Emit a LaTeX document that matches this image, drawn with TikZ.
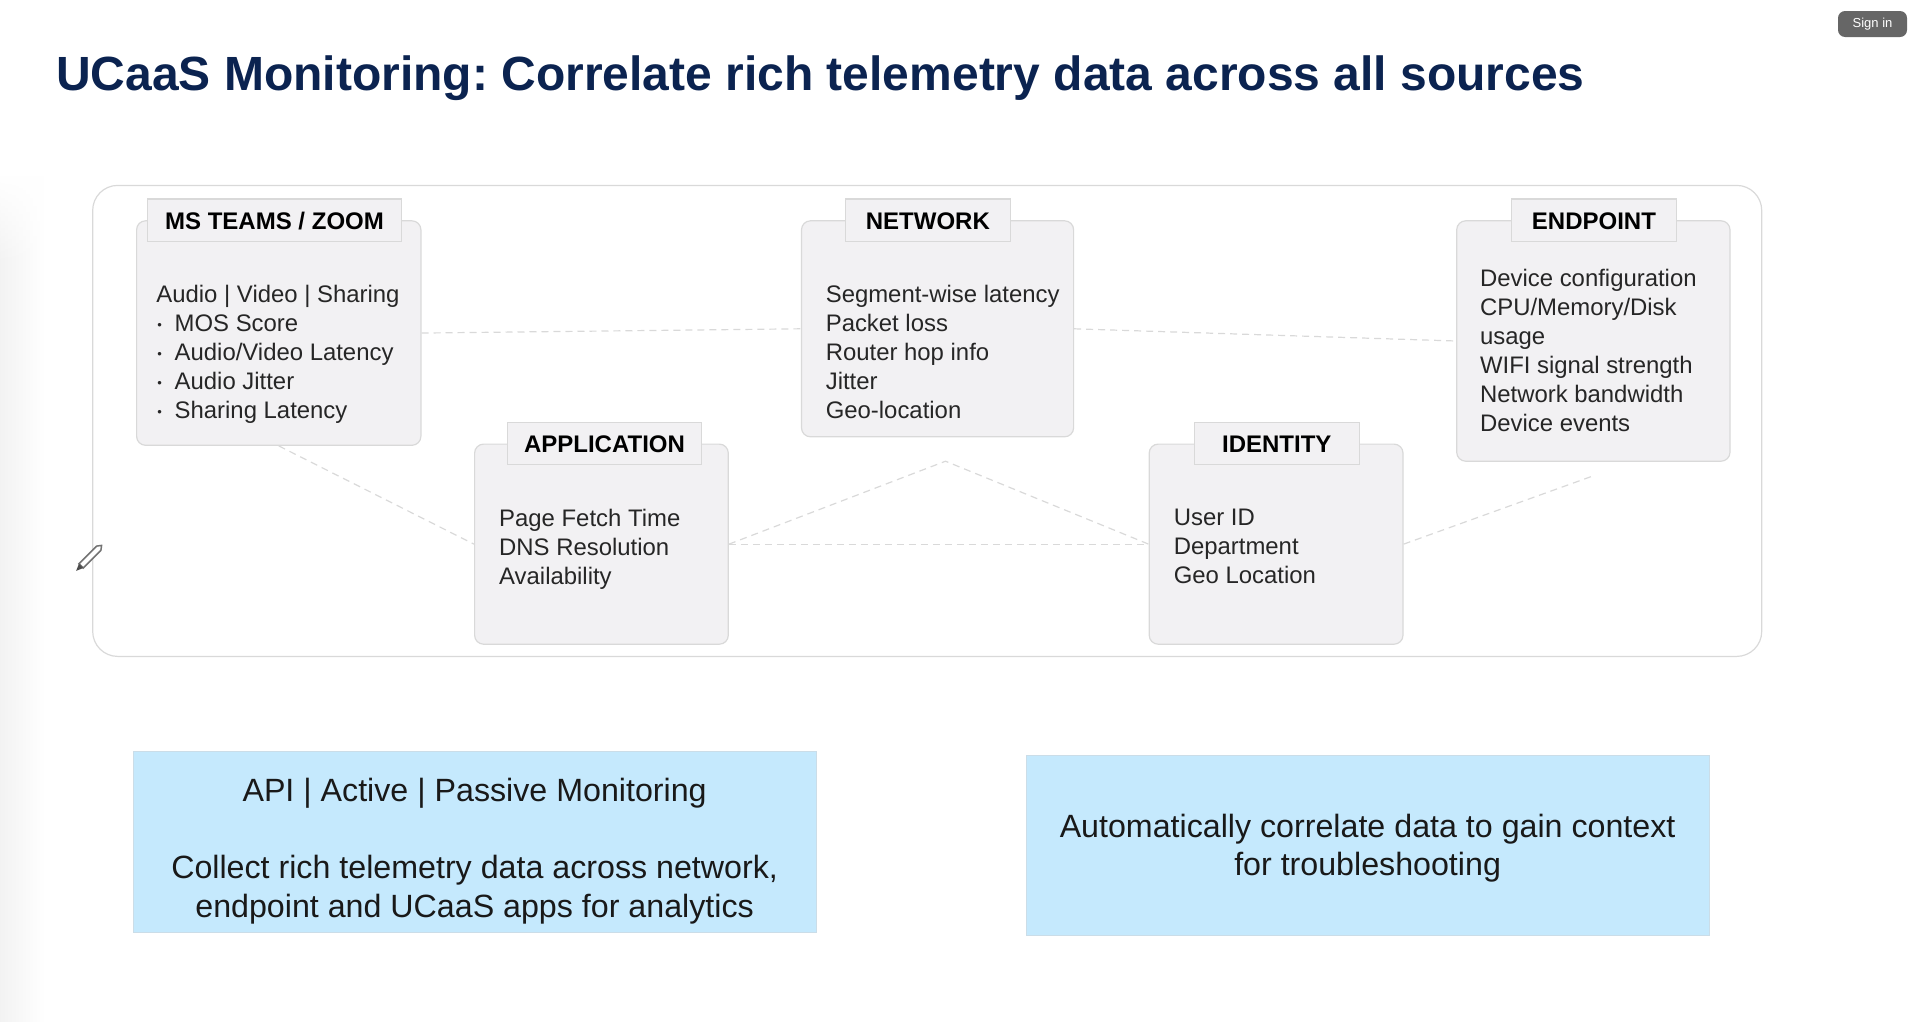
\documentclass[tikz,border=0pt]{standalone}
\usepackage{fontspec}
\setmainfont{Liberation Sans}
\usetikzlibrary{positioning, calc, fadings}
\definecolor{titlenavy}{HTML}{0B2350}
\definecolor{panelgray}{HTML}{F2F1F3}
\definecolor{edgegray}{HTML}{D9D9D9}
\definecolor{blurbblue}{HTML}{C5E9FD}
\definecolor{blurbedge}{HTML}{CBDDE8}
\tikzset{
  panel/.style={draw=edgegray, fill=panelgray, line width=1.2pt, rounded corners=9pt, inner sep=0pt},
  tag/.style={draw=edgegray, fill=panelgray, line width=1.2pt, inner sep=0pt, text height=18.9pt, text depth=0pt, font=\fontsize{24}{29}\selectfont\bfseries, text=black},
  facts/.style={inner sep=0pt, anchor=north west, align=left, font=\fontsize{23.9}{29}\selectfont, text=black!85},
  link/.style={dashed, draw=edgegray, line width=1.2pt, dash pattern=on 7pt off 5pt},
  blurb/.style={draw=blurbedge, fill=blurbblue, line width=1pt, inner sep=0pt},
  blurbtext/.style={inner sep=0pt, align=center, font=\fontsize{32.2}{38.5}\selectfont, text=black!90}
}
\newcommand{\bul}{\makebox[18.3pt][l]{\hspace{1pt}\raisebox{2pt}{\fontsize{13}{13}\selectfont\textbullet}}}
\begin{document}
\frenchspacing
\begin{tikzpicture}[x=1pt, y=-1pt]
  \useasboundingbox (0,0) rectangle (1913,1021);

  % Shadow down the left edge
  \shade[left color=black!5, right color=white] (0,175) rectangle (45,1021);
  \fill[white, path fading=south] (0,175) rectangle (45,265);

  % Title
  \node[anchor=west, inner sep=0pt, text=titlenavy, font=\fontsize{48}{56}\selectfont\bfseries] (title) at (56,78.5)
    {UCaaS Monitoring: Correlate rich telemetry data across all sources};

  % Sign in button
  \node[fill=black!60, rounded corners=7pt, minimum width=69pt, minimum height=26pt, inner sep=0pt, text=white, font=\fontsize{13}{15}\selectfont] (signin) at (1872.5,24) {Sign in};

  % Outer frame
  \node[draw=edgegray, line width=1.2pt, rounded corners=25pt, minimum width=1669pt, minimum height=471pt, inner sep=0pt] (frame) at (927.2,420.9) {};

  % Panels
  \node[panel, minimum width=284.3pt, minimum height=224.5pt] (ms) at (278.75,333.05) {};
  \node[panel, minimum width=253.7pt, minimum height=200.1pt] (app) at (601.45,544.15) {};
  \node[panel, minimum width=272.1pt, minimum height=216pt] (net) at (937.55,328.8) {};
  \node[panel, minimum width=253.8pt, minimum height=200.1pt] (idn) at (1276.1,544.15) {};
  \node[panel, minimum width=273.3pt, minimum height=240.4pt] (end) at (1593.35,341) {};

  % Free ends of the links
  \coordinate (apex) at (945.5,461.2);
  \coordinate (endfoot) at (1593.3,475.8);

  % Links
  \draw[link] (ms.east) -- (net.west);
  \draw[link] (net.east) -- (end.west);
  \draw[link] (ms.south) -- (app.west);
  \draw[link] (app.east) -- (idn.west);
  \draw[link] (app.east) -- (apex) -- (idn.west);
  \draw[link] (idn.east) -- (endfoot);

  % Tags
  \node[tag, minimum width=253.8pt, minimum height=42.7pt] (mstag) at (274.5,220.25) {MS TEAMS / ZOOM};
  \node[tag, minimum width=194pt, minimum height=42.7pt] (apptag) at (604.5,443.45) {APPLICATION};
  \node[tag, minimum width=164.7pt, minimum height=42.7pt] (nettag) at (927.85,220.25) {NETWORK};
  \node[tag, minimum width=164.7pt, minimum height=42.7pt] (idntag) at (1276.75,443.45) {IDENTITY};
  \node[tag, minimum width=164.7pt, minimum height=42.7pt] (endtag) at (1593.95,220.25) {ENDPOINT};

  % Panel texts
  \node[facts] (mstext) at (156.2,285) {Audio | Video | Sharing\\
    \bul MOS Score\\ \bul Audio/Video Latency\\ \bul Audio Jitter\\ \bul Sharing Latency};
  \node[facts] (apptext) at (499,509) {Page Fetch Time\\DNS Resolution\\Availability};
  \node[facts] (nettext) at (825.6,285) {Segment-wise latency\\Packet loss\\Router hop info\\Jitter\\Geo-location};
  \node[facts] (idntext) at (1173.6,509) {User ID\\Department\\Geo Location};
  \node[facts] (endtext) at (1479.9,269.4) {Device configuration\\CPU/Memory/Disk\\usage\\WIFI signal strength\\Network bandwidth\\Device events};

  % Blue boxes
  \node[blurb, minimum width=683.2pt, minimum height=180.6pt] (left) at (474.6,841.8) {};
  \node[blurbtext] (lefttext) at (474.6,851)
    {API | Active | Passive Monitoring\\[38.5pt]Collect rich telemetry data across network,\\endpoint and UCaaS apps for analytics};
  \node[blurb, minimum width=683.2pt, minimum height=180.5pt] (right) at (1367.6,845.45) {};
  \node[blurbtext] (righttext) at (1367.6,848)
    {Automatically correlate data to gain context\\for troubleshooting};

  % Pencil
  \begin{scope}[shift={(91,556)}, rotate=45]
    \draw[black!55, fill=white, line width=1.5pt] (-14,-3) -- (11,-3) -- (15,0) -- (11,3) -- (-14,3) -- cycle;
    \fill[black!70] (-21,0) -- (-14,-3) -- (-14,3) -- cycle;
  \end{scope}
\end{tikzpicture}
\end{document}
